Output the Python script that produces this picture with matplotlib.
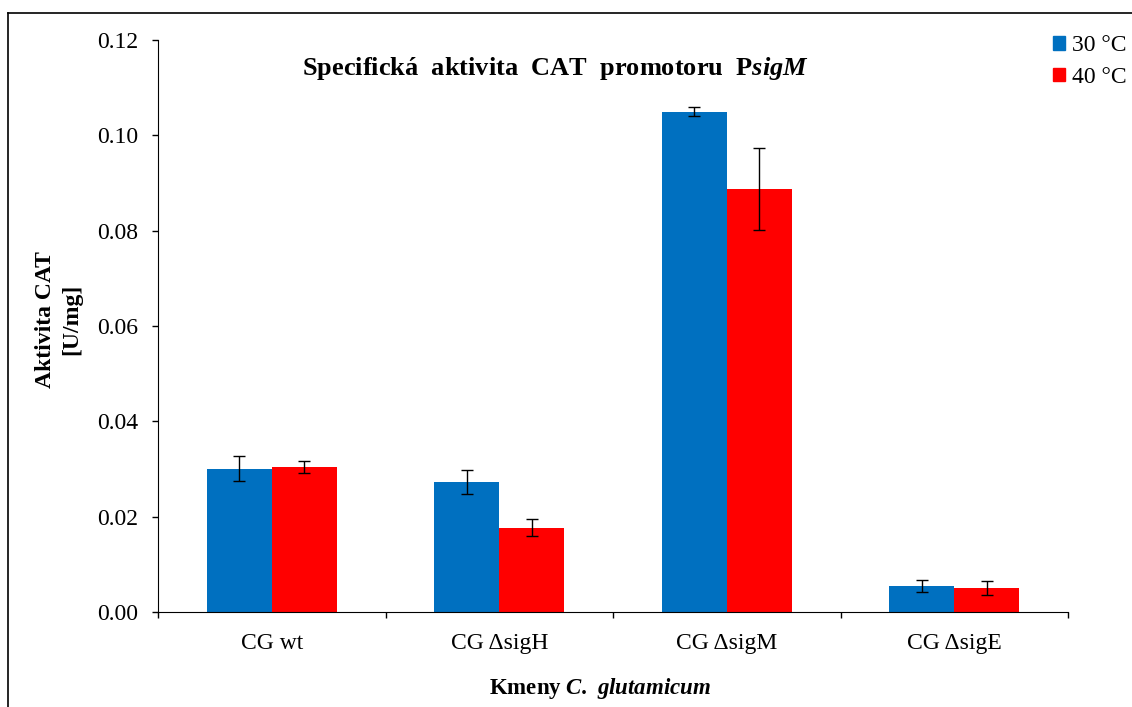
import matplotlib.pyplot as plt
import numpy as np
from matplotlib.lines import Line2D
from matplotlib.patches import Patch

plt.rcParams['font.family'] = ['Liberation Serif', 'DejaVu Serif']
plt.rcParams['mathtext.fontset'] = 'custom'
plt.rcParams['mathtext.rm'] = 'Liberation Serif'
plt.rcParams['mathtext.bf'] = 'Liberation Serif:bold'
plt.rcParams['mathtext.bfit'] = 'Liberation Serif:bold:italic'

"""data"""
kmeny = ['CG wt', 'CG ΔsigH', 'CG ΔsigM', 'CG ΔsigE']
akt_30 = [0.0301, 0.0272, 0.1050, 0.0054]
err_30 = [0.0027, 0.0025, 0.0010, 0.0013]
akt_40 = [0.0304, 0.0177, 0.0888, 0.0051]
err_40 = [0.0013, 0.0018, 0.0086, 0.0015]
labels = ['30 °C', '40 °C']
barvy = ['#0070C0', '#FF0000']

fig = plt.figure(figsize=(11.32, 7.07), dpi=100)
ax = fig.add_axes([0.1396, 0.1344, 0.8039, 0.809])

x = np.arange(len(kmeny))
w = 0.286
ax.bar(x - w/2, akt_30, w, color=barvy[0], yerr=err_30, capsize=4,
       error_kw=dict(ecolor='black', elinewidth=1, capthick=1))
ax.bar(x + w/2, akt_40, w, color=barvy[1], yerr=err_40, capsize=4,
       error_kw=dict(ecolor='black', elinewidth=1, capthick=1))

ax.set_xlim(-0.5, len(kmeny) - 0.5)
ax.set_ylim(0, 0.12)
ax.set_yticks(np.arange(0, 0.121, 0.02))
ax.set_yticklabels(['%.2f' % v for v in np.arange(0, 0.121, 0.02)])
ax.set_xticks(x)
ax.set_xticklabels(kmeny)
ax.set_xticks(np.arange(-0.5, len(kmeny), 1), minor=True)
ax.tick_params(axis='x', which='major', length=0, pad=15, labelsize=17)
ax.tick_params(axis='x', which='minor', length=4.5, width=1)
ax.tick_params(axis='y', length=4.5, width=1, pad=10, labelsize=17)
ax.spines['top'].set_visible(False)
ax.spines['right'].set_visible(False)

ax.set_xlabel(r'Kmeny $\mathbfit{C.}$ $\mathbfit{glutamicum}$', fontsize=16.5,
              fontweight='bold', va='center')
ax.xaxis.set_label_coords(0.486, -0.133)
ax.set_ylabel('Aktivita CAT\n[U/mg]', fontsize=17, fontweight='bold', linespacing=1.3)
ax.yaxis.set_label_coords(-0.0835, 0.512)
ax.text(0.437, 0.951, r'Specifická  aktivita  CAT  promotoru  P$\mathbfit{sigM}$',
        transform=ax.transAxes, ha='center', va='center', fontsize=19, fontweight='bold')

handles = [Patch(color=c) for c in barvy]
fig.legend(handles, labels, loc='upper right', bbox_to_anchor=(1.014, 0.98),
           frameon=False, fontsize=17, handlelength=0.5, handleheight=0.5,
           handletextpad=0.3, labelspacing=0.45)

# ramecek okolo grafu
fig.add_artist(Line2D([8/1132, 8/1132], [0, 1 - 13/707], color='black', lw=1.2))
fig.add_artist(Line2D([8/1132, 1], [1 - 13/707, 1 - 13/707], color='black', lw=1.2))

plt.savefig('out.png')
